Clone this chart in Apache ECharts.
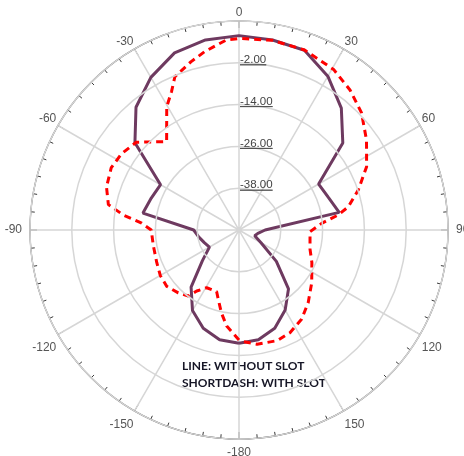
<!DOCTYPE html>
<html>
<head>
<meta charset="utf-8">
<script src="https://cdn.jsdelivr.net/npm/echarts@6/dist/echarts.min.js"></script>
<style>
  html, body { margin: 0; padding: 0; background: #ffffff; }
  #chart { width: 464px; height: 456px; }
</style>
</head>
<body>
<div id="chart"></div>
<script>
// Radiation pattern, gain in dB against azimuth in degrees
const solidAngles = [-180, -170, -160, -150, -140, -130, -120, -110, -100, -90,
  -80, -70, -60, -50, -40, -30, -20, -10, 0, 10, 20, 30, 40, 50, 60, 70, 80,
  90, 100, 110, 120, 130, 140, 150, 160, 170, 180];
const solidGain = [-17.5, -18.0, -20.0, -23.3, -28.6, -36.3, -40.2, -39.4, -38.3, -37.0,
  -22.0, -23.2, -24.0, -11.0, -4.0, 0.6, 4.1, 5.4, 5.8, 5.4, 4.9, 1.0, -4.3, -11.1, -23.6, -22.7, -20.8,
  -42.5, -44.5, -45.2, -42.7, -36.0, -27.9, -23.5, -20.0, -18.0, -17.5];

const dashAngles = [-180, -172.7, -168, -163.4, -160, -150.8, -145.3, -142.5, -136, -128,
  -120, -111.7, -100.6, -90, -86, -82.6, -79, -72, -64, -57, -49.5, -39.3, -30.4,
  -26, -22.7, -16, -11, -4, 0, 10, 20, 30.5, 38.4, 46.2, 54.8, 63.6, 71.5, 78,
  81.4, 85.4, 91.4, 105, 114, 126, 136.4, 145, 153.6, 161, 171, 180];
const dashGain = [-18.4, -22.2, -25.7, -29.2, -31.2, -31.0, -28.7, -26.1, -24.9, -23.7,
  -23.9, -24.6, -25.0, -24.8, -22.0, -16.5, -11.8, -10.0, -9.2, -9.8, -11.2, -17.2, -9.0,
  -5.8, -2.3, 0.2, 2.1, 4.6, 5.0, 5.3, 5.0, 3.5, 1.3, -1.3, -5.2, -9.1, -13.9, -17.9,
  -21.2, -26.2, -29.6, -28.9, -27.1, -24.2, -21.2, -18.7, -17.1, -16.4, -16.8, -18.2];

const gainMin = -50;
const gainMax = 10;
const gainStep = 12;
const angleStep = 30;
const notes = ['LINE: WITHOUT SLOT', 'SHORTDASH: WITH SLOT'];

// The angle axis runs 0..360 clockwise from the top; negative azimuths wrap round.
const wrap = a => (a < 0 ? a + 360 : a);
const toPairs = (angles, gains) => angles.map((a, i) => [gains[i], wrap(a)]);
const angleText = v => (v === 180 ? '-180' : String(v > 180 ? v - 360 : v));
// Lower and side labels get a little padding so they sit further from the rim.
const angleLabel = v => {
  if (v === 360) return '';
  let cls = 'up';
  if (v === 90 || v === 270) cls = 'side';
  else if (v >= 120 && v <= 240) cls = 'lo';
  return '{' + cls + '|' + angleText(v) + '}';
};

const labelFont = { fontSize: 12, color: '#555555', fontFamily: 'Liberation Sans, Arial, sans-serif' };

const chart = echarts.init(document.getElementById('chart'), null, { renderer: 'canvas' });

chart.setOption({
  animation: false,
  backgroundColor: '#ffffff',
  polar: { center: [239, 230], radius: 209 },
  angleAxis: {
    type: 'value',
    min: 0,
    max: 360,
    interval: angleStep,
    startAngle: 90,
    clockwise: true,
    axisLine: { lineStyle: { color: '#3a3a3a', width: 1.2 } },
    axisTick: { inside: true, length: 7, lineStyle: { color: '#3a3a3a', width: 1 } },
    minorTick: { show: true, splitNumber: 6, length: 4, lineStyle: { color: '#3a3a3a', width: 1 } },
    splitLine: { show: true, lineStyle: { color: '#d6d6d6', width: 1.5 } },
    axisLabel: {
      margin: 2,
      formatter: angleLabel,
      rich: {
        up: Object.assign({}, labelFont),
        lo: Object.assign({ padding: [6, 0, 0, 0] }, labelFont),
        side: Object.assign({ padding: [0, 6, 0, 6] }, labelFont)
      }
    }
  },
  radiusAxis: {
    type: 'value',
    min: gainMin,
    max: gainMax,
    interval: gainStep,
    axisLine: { show: false },
    axisTick: { show: false },
    splitLine: { show: true, lineStyle: { color: '#d6d6d6', width: 1.5 } },
    axisLabel: {
      margin: -1,
      align: 'left',
      verticalAlign: 'middle',
      formatter: v => (v === gainMin || v === gainMax) ? '' : '{t|' + v.toFixed(2) + '}\n{hr|}',
      rich: {
        t: { fontSize: 11.5, color: '#444444', fontFamily: 'Liberation Sans, Arial, sans-serif', lineHeight: 4 },
        hr: { width: '100%', height: 0, lineHeight: 6, borderWidth: 0.8, borderColor: '#444444' }
      }
    },
    z: 5
  },
  series: [
    {
      name: 'without slot',
      type: 'line',
      coordinateSystem: 'polar',
      data: toPairs(solidAngles, solidGain),
      showSymbol: false,
      symbol: 'none',
      lineStyle: { color: '#6e3a60', width: 3 },
      z: 3
    },
    {
      name: 'with slot',
      type: 'line',
      coordinateSystem: 'polar',
      data: toPairs(dashAngles, dashGain),
      showSymbol: false,
      symbol: 'none',
      lineStyle: { color: '#ff0000', width: 3, type: [7, 5] },
      z: 4
    }
  ],
  graphic: [
    {
      type: 'text',
      left: 182,
      top: 358,
      style: {
        text: notes.join('\n'),
        font: 'bold 12px Lato, "Open Sans", sans-serif',
        fill: '#161626',
        lineHeight: 17
      }
    }
  ]
});
</script>
</body>
</html>
